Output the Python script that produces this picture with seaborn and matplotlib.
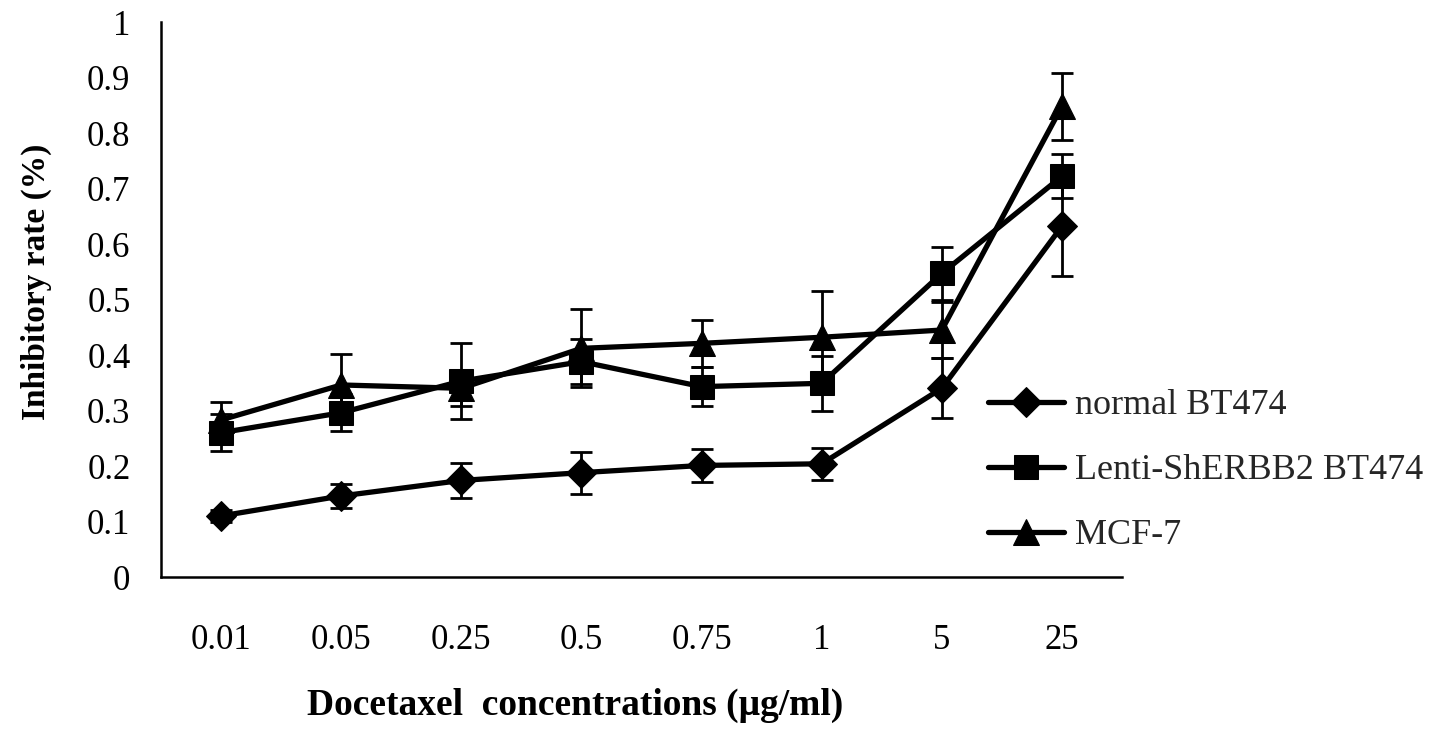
import matplotlib
matplotlib.use("Agg")
import matplotlib.pyplot as plt
import seaborn as sns
import pandas as pd

concentrations = ["0.01", "0.05", "0.25", "0.5", "0.75", "1", "5", "25"]
series_names = ["normal BT474", "Lenti-ShERBB2 BT474", "MCF-7"]
normal_bt474 = [0.110, 0.146, 0.174, 0.188, 0.201, 0.204, 0.340, 0.632]
normal_bt474_err = [0.010, 0.022, 0.031, 0.038, 0.029, 0.029, 0.054, 0.090]
lenti_bt474 = [0.260, 0.296, 0.353, 0.388, 0.343, 0.349, 0.547, 0.722]
lenti_bt474_err = [0.033, 0.033, 0.068, 0.041, 0.035, 0.050, 0.047, 0.040]
mcf7 = [0.283, 0.346, 0.340, 0.412, 0.421, 0.432, 0.445, 0.848]
mcf7_err = [0.033, 0.055, 0.032, 0.070, 0.042, 0.083, 0.050, 0.060]

sns.set_theme(style="white")
plt.rcParams["font.family"] = ["Liberation Serif", "DejaVu Serif"]

fig = plt.figure(figsize=(14.41, 7.35), dpi=100)
ax = fig.add_axes([161/1441, 1-577/735, (1122-161)/1441, (577-22)/735])

values = [normal_bt474, lenti_bt474, mcf7]
errors = [normal_bt474_err, lenti_bt474_err, mcf7_err]
markers = ["D", "s", "^"]
msizes = [15, 17, 19]
zorders = [3, 5, 4]

for name, vals, errs, mk, ms, zo in zip(series_names, values, errors, markers, msizes, zorders):
    df = pd.DataFrame({"conc": concentrations, "rate": vals})
    ax.errorbar(df["conc"], df["rate"], yerr=errs, fmt="none", ecolor="black",
                elinewidth=2.0, capsize=8, capthick=2.0, zorder=zo - 0.5)
    sns.lineplot(data=df, x="conc", y="rate", ax=ax, color="black", linewidth=3.8,
                 marker=mk, markersize=ms, markeredgecolor="black",
                 markerfacecolor="black", label=name, sort=False, zorder=zo)

ax.set_xlim(-0.5, 7.5)
ax.set_ylim(0, 1)
ax.set_yticks([i / 10 for i in range(11)])
ax.set_yticklabels(["0", "0.1", "0.2", "0.3", "0.4", "0.5", "0.6", "0.7", "0.8", "0.9", "1"])
ax.tick_params(axis="both", length=0, labelsize=25, colors="black")
ax.tick_params(axis="y", pad=22)
ax.tick_params(axis="x", pad=34)
for s in ["top", "right"]:
    ax.spines[s].set_visible(False)
for s in ["left", "bottom"]:
    ax.spines[s].set_color("black")
    ax.spines[s].set_linewidth(1.8)
ax.grid(False)

ax.set_xlabel("Docetaxel  concentrations (\u03bcg/ml)", fontsize=27, fontweight="bold", color="black")
ax.set_ylabel("Inhibitory rate (%)", fontsize=24, fontweight="bold", color="black")
ax.xaxis.set_label_coords((575 - 161) / 961, (577 - 688) / 555)
ax.yaxis.set_label_coords((52 - 161) / 961, (577 - 282) / 555)

ax.get_legend().remove()
handles, labels = ax.get_legend_handles_labels()
fig.legend(handles, labels, loc="upper left", bbox_to_anchor=(988/1441, 1-389/735),
           frameon=False, fontsize=26, handlelength=2.1, handletextpad=0.3,
           labelspacing=0.88, borderpad=0, borderaxespad=0)

fig.savefig("out.png", dpi=100, facecolor="white")
